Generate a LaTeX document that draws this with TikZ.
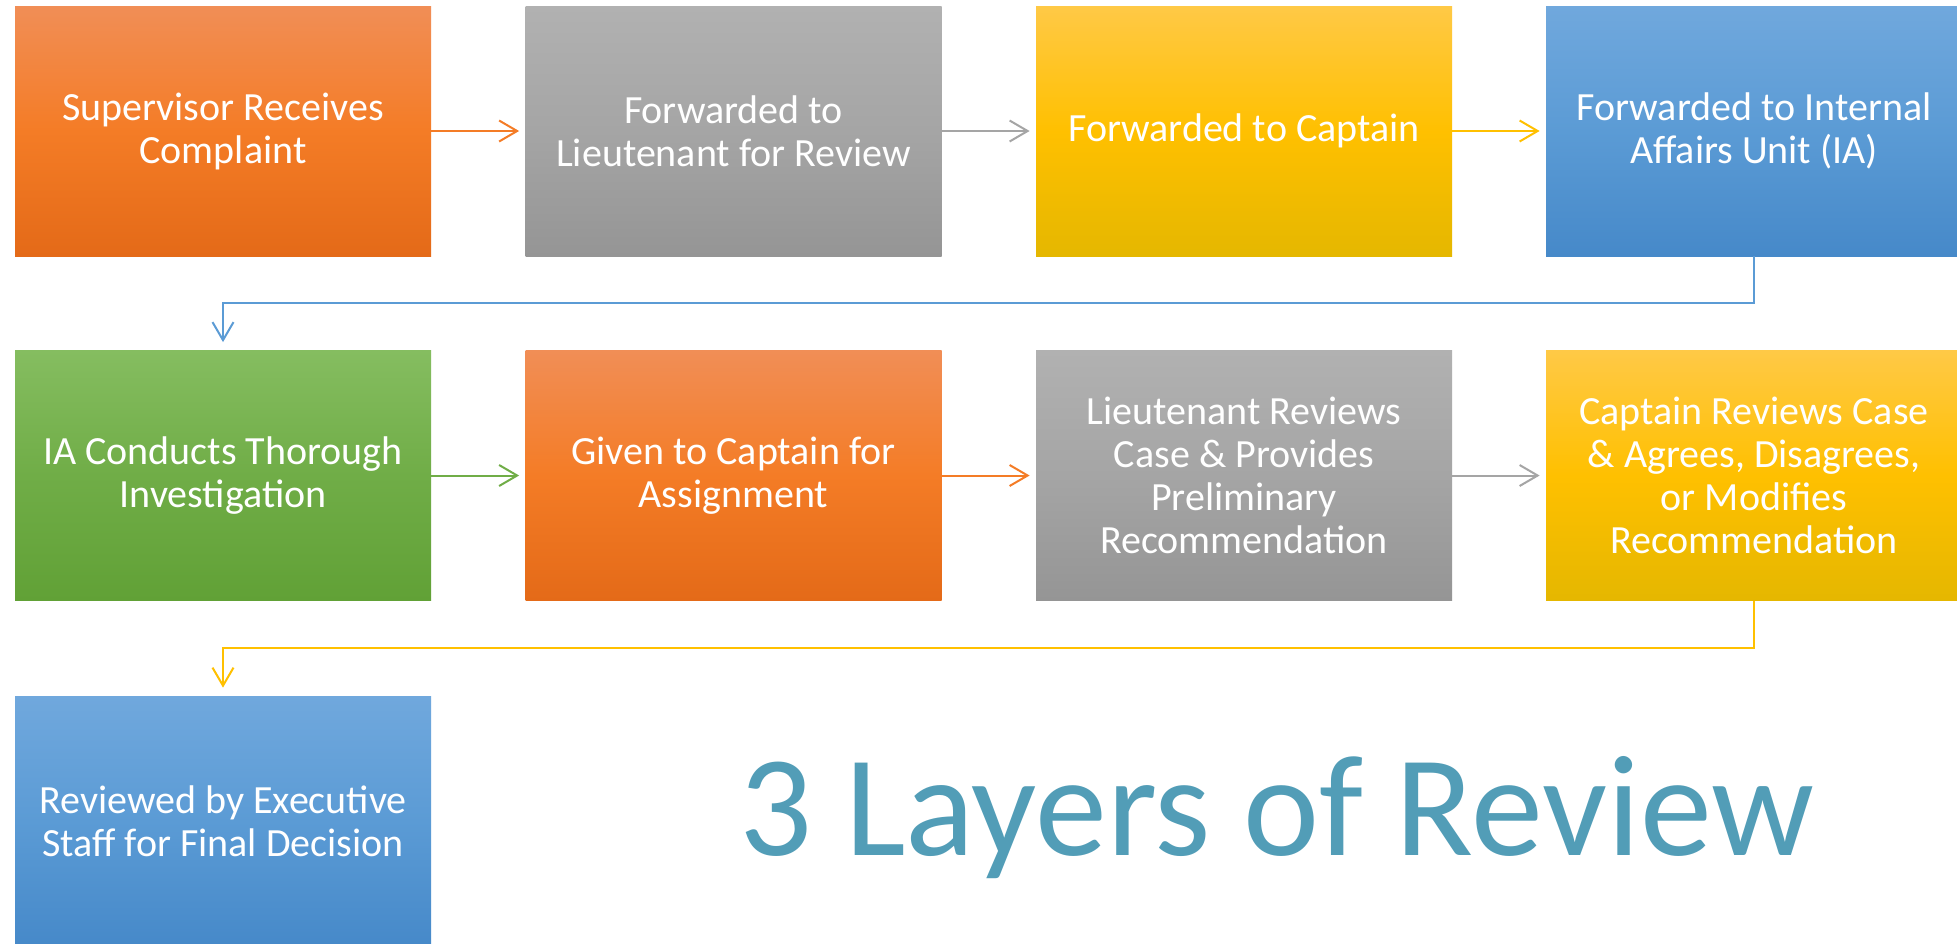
\documentclass[tikz,border=0pt]{standalone}
\usepackage{fontspec}
\setmainfont{Carlito}
\usetikzlibrary{arrows.meta}

\definecolor{orTop}{RGB}{241,142,86}
\definecolor{orMid}{RGB}{244,124,38}
\definecolor{orBot}{RGB}{228,106,24}
\definecolor{grTop}{RGB}{177,177,177}
\definecolor{grMid}{RGB}{165,165,165}
\definecolor{grBot}{RGB}{149,149,149}
\definecolor{yeTop}{RGB}{255,201,70}
\definecolor{yeMid}{RGB}{255,192,0}
\definecolor{yeBot}{RGB}{229,183,0}
\definecolor{blTop}{RGB}{112,168,221}
\definecolor{blMid}{RGB}{91,155,213}
\definecolor{blBot}{RGB}{70,137,201}
\definecolor{gnTop}{RGB}{133,189,96}
\definecolor{gnMid}{RGB}{112,173,71}
\definecolor{gnBot}{RGB}{97,161,54}
\definecolor{titleCol}{RGB}{82,157,183}

\tikzset{
  stepbox/.style={rectangle, minimum width=208pt, minimum height=125pt,
    inner sep=0pt, align=center, text=white,
    font=\fontsize{20}{21.5}\selectfont},
  orangebox/.style={stepbox, top color=orTop, bottom color=orBot, middle color=orMid},
  graybox/.style={stepbox, top color=grTop, bottom color=grBot, middle color=grMid},
  yellowbox/.style={stepbox, top color=yeTop, bottom color=yeBot, middle color=yeMid},
  bluebox/.style={stepbox, top color=blTop, bottom color=blBot, middle color=blMid},
  greenbox/.style={stepbox, top color=gnTop, bottom color=gnBot, middle color=gnMid},
  flow/.style={line width=1pt, -{Straight Barb[length=9pt,width=10.5pt]}, shorten >=3pt},
}

\begin{document}
\begin{tikzpicture}[x=0.5pt, y=-0.5pt]
\useasboundingbox (0,0) rectangle (1957,943);
\clip (0,0) rectangle (1957,943);
\fill[white] (0,0) rectangle (1957,943);

% first row
\node[orangebox] (receive) at (223,131) {Supervisor Receives\\Complaint};
\node[graybox] (lieut) at (733.5,131) {Forwarded to\\Lieutenant for Review};
\node[yellowbox] (captain) at (1244,131) {Forwarded to Captain};
\node[bluebox] (ia) at (1754,131) {Forwarded to Internal\\Affairs Unit (IA)};

% second row
\node[greenbox] (conduct) at (223,475.5) {IA Conducts Thorough\\Investigation};
\node[orangebox] (assign) at (733.5,475.5) {Given to Captain for\\Assignment};
\node[graybox] (ltreview) at (1244,475.5) {Lieutenant Reviews\\Case \& Provides\\Preliminary\\Recommendation};
\node[yellowbox] (cptreview) at (1754,475.5) {Captain Reviews Case\\\& Agrees, Disagrees,\\or Modifies\\Recommendation};

% third row
\node[bluebox] (final) at (223,821) {Reviewed by Executive\\Staff for Final Decision};

\node[text=titleCol, font=\fontsize{72}{76}\selectfont] (title) at (1277,818) {3 Layers of Review};

\draw[flow, orMid] (receive) -- (lieut);
\draw[flow, grMid] (lieut) -- (captain);
\draw[flow, yeMid] (captain) -- (ia);
\draw[flow, blMid, shorten >=4pt] (ia.south) -- ++(0,47) -| (conduct.north);

\draw[flow, gnMid] (conduct) -- (assign);
\draw[flow, orMid] (assign) -- (ltreview);
\draw[flow, grMid] (ltreview) -- (cptreview);
\draw[flow, yeMid, shorten >=4pt] (cptreview.south) -- ++(0,47) -| (final.north);
\end{tikzpicture}
\end{document}
